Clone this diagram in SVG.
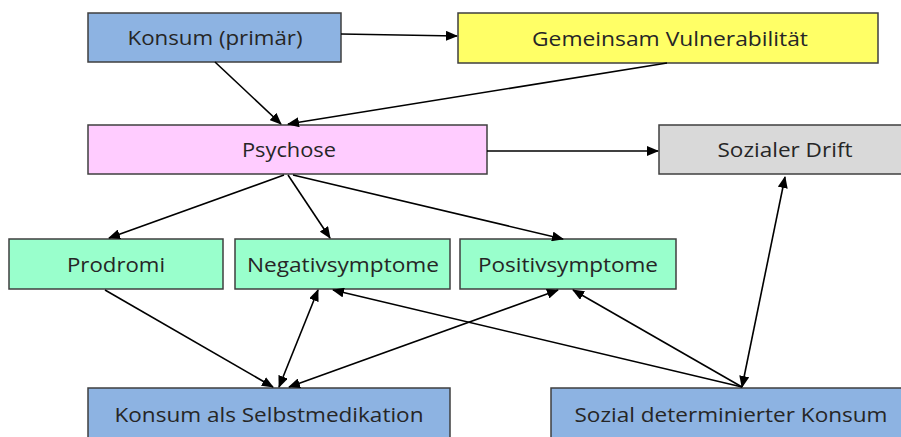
<svg xmlns="http://www.w3.org/2000/svg" width="901" height="437" viewBox="0 0 901 437">
  <style>
    .box { stroke: #3f3f3f; stroke-width: 1.5; }
    .blue { fill: #8db3e2; }
    .yellow { fill: #ffff66; }
    .pink { fill: #ffccff; }
    .grey { fill: #d9d9d9; }
    .green { fill: #99ffcc; }
    .label { font-family: "Open Sans", "Noto Sans", sans-serif; font-size: 20px; fill: #262626; text-anchor: middle; }
    .edge { stroke: #000; stroke-width: 1.6; fill: none; marker-end: url(#head); }
    .both { marker-start: url(#head); }
  </style>
  <defs>
    <marker id="head" markerUnits="userSpaceOnUse" markerWidth="12" markerHeight="10" refX="11" refY="5" orient="auto-start-reverse">
      <path d="M0,0 L12,5 L0,10 z" fill="#000"/>
    </marker>
  </defs>
  <rect width="901" height="437" fill="#fff"/>

  <g id="konsum-primaer">
    <rect class="box blue" x="88" y="13" width="253" height="49"/>
    <text class="label" x="215" y="45" textLength="175" lengthAdjust="spacingAndGlyphs">Konsum (primär)</text>
  </g>
  <g id="vulnerabilitaet">
    <rect class="box yellow" x="458" y="13" width="420" height="50"/>
    <text class="label" x="670" y="46" textLength="276" lengthAdjust="spacingAndGlyphs">Gemeinsam Vulnerabilität</text>
  </g>
  <g id="psychose">
    <rect class="box pink" x="88" y="125" width="399" height="49"/>
    <text class="label" x="289" y="157" textLength="94" lengthAdjust="spacingAndGlyphs">Psychose</text>
  </g>
  <g id="sozialer-drift">
    <rect class="box grey" x="659" y="125" width="252" height="49"/>
    <text class="label" x="785" y="157" textLength="135" lengthAdjust="spacingAndGlyphs">Sozialer Drift</text>
  </g>
  <g id="prodromi">
    <rect class="box green" x="9" y="239" width="214" height="50"/>
    <text class="label" x="116" y="272" textLength="98" lengthAdjust="spacingAndGlyphs">Prodromi</text>
  </g>
  <g id="negativsymptome">
    <rect class="box green" x="235" y="239" width="215" height="50"/>
    <text class="label" x="343" y="272" textLength="192" lengthAdjust="spacingAndGlyphs">Negativsymptome</text>
  </g>
  <g id="positivsymptome">
    <rect class="box green" x="460" y="239" width="216" height="50"/>
    <text class="label" x="568" y="272" textLength="180" lengthAdjust="spacingAndGlyphs">Positivsymptome</text>
  </g>
  <g id="selbstmedikation">
    <rect class="box blue" x="88" y="388" width="362" height="60"/>
    <text class="label" x="269" y="422" textLength="309" lengthAdjust="spacingAndGlyphs">Konsum als Selbstmedikation</text>
  </g>
  <g id="sozial-determiniert">
    <rect class="box blue" x="551" y="388" width="360" height="60"/>
    <text class="label" x="731" y="422" textLength="313" lengthAdjust="spacingAndGlyphs">Sozial determinierter Konsum</text>
  </g>

  <g id="connectors">
    <line class="edge" x1="341" y1="34" x2="457" y2="36"/>
    <line class="edge" x1="215" y1="62" x2="281" y2="124"/>
    <line class="edge" x1="667" y1="63" x2="288" y2="124"/>
    <line class="edge" x1="487" y1="151" x2="658" y2="151"/>
    <line class="edge" x1="284" y1="175" x2="109" y2="238"/>
    <line class="edge" x1="288" y1="175" x2="330" y2="238"/>
    <line class="edge" x1="293" y1="175" x2="563" y2="239"/>
    <line class="edge" x1="105" y1="290" x2="273" y2="387"/>
    <line class="edge both" x1="318" y1="290" x2="279" y2="387"/>
    <line class="edge both" x1="558" y1="290" x2="289" y2="387"/>
    <line class="edge" x1="742" y1="387" x2="333" y2="290"/>
    <line class="edge" x1="742" y1="387" x2="573" y2="290"/>
    <line class="edge both" x1="742" y1="387" x2="785" y2="177"/>
  </g>
</svg>
